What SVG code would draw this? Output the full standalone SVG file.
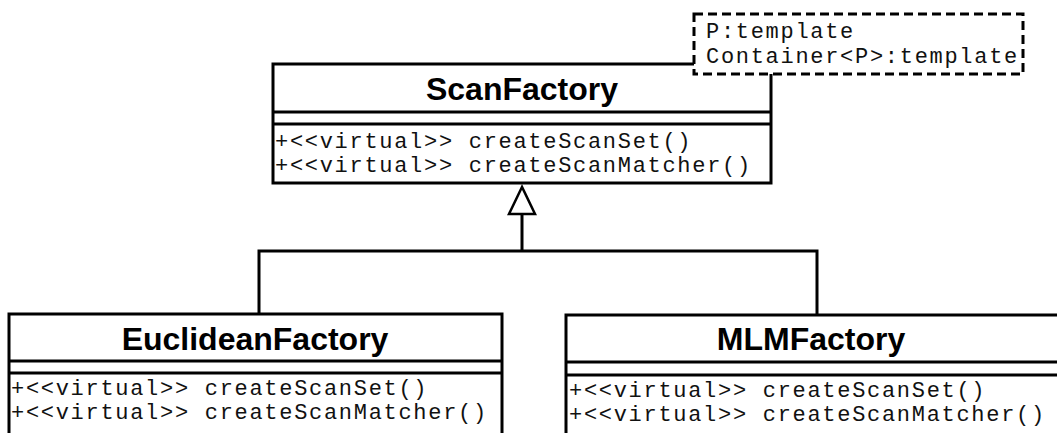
<svg xmlns="http://www.w3.org/2000/svg" width="1057" height="433" viewBox="0 0 1057 433">
<style>
.box{fill:#fff;stroke:#000;stroke-width:3}
.sep{stroke:#000;stroke-width:3}
.title{font-family:"Liberation Sans",Arial,sans-serif;font-weight:bold;font-size:32px;text-anchor:middle;fill:#000}
.mono{font-family:"Liberation Mono","Courier New",monospace;font-size:22px;letter-spacing:1.7px;fill:#111}
.conn{fill:none;stroke:#000;stroke-width:3}
</style>
<rect width="1057" height="433" fill="#fff"/>
<g id="ScanFactory">
<rect class="box" x="273" y="64" width="498" height="119"/>
<line class="sep" x1="273" y1="112" x2="771" y2="112"/>
<line class="sep" x1="273" y1="124" x2="771" y2="124"/>
<text class="title" x="522" y="100">ScanFactory</text>
<text class="mono" x="275" y="148">+&lt;&lt;virtual&gt;&gt; createScanSet()</text>
<text class="mono" x="275" y="172">+&lt;&lt;virtual&gt;&gt; createScanMatcher()</text>
</g>
<g id="template">
<rect x="694" y="14" width="329" height="60" fill="#fff" stroke="#000" stroke-width="3" stroke-dasharray="9,5"/>
<text class="mono" x="706" y="38">P:template</text>
<text class="mono" x="706" y="63">Container&lt;P&gt;:template</text>
</g>
<g id="EuclideanFactory">
<rect class="box" x="9" y="314" width="493" height="140"/>
<line class="sep" x1="9" y1="361" x2="502" y2="361"/>
<line class="sep" x1="9" y1="373" x2="502" y2="373"/>
<text class="title" x="255" y="350">EuclideanFactory</text>
<text class="mono" x="11" y="395">+&lt;&lt;virtual&gt;&gt; createScanSet()</text>
<text class="mono" x="11" y="419">+&lt;&lt;virtual&gt;&gt; createScanMatcher()</text>
</g>
<g id="MLMFactory">
<rect class="box" x="566" y="315" width="500" height="140"/>
<line class="sep" x1="566" y1="362" x2="1066" y2="362"/>
<line class="sep" x1="566" y1="375" x2="1066" y2="375"/>
<text class="title" x="811" y="350">MLMFactory</text>
<text class="mono" x="569" y="397">+&lt;&lt;virtual&gt;&gt; createScanSet()</text>
<text class="mono" x="569" y="421">+&lt;&lt;virtual&gt;&gt; createScanMatcher()</text>
</g>
<g id="connectors">
<polyline class="conn" points="259,314 259,251 817,251 817,315"/>
<line class="conn" x1="522" y1="251" x2="522" y2="214"/>
<polygon points="522,187 509,214 535,214" fill="#fff" stroke="#000" stroke-width="2.5"/>
</g>
</svg>
